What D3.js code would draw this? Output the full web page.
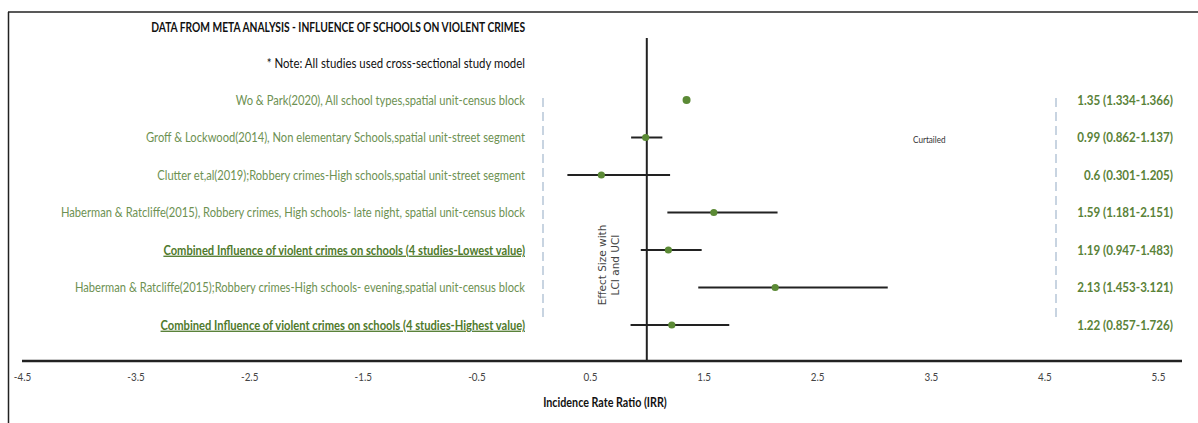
<!DOCTYPE html>
<html>
<head>
<meta charset="utf-8">
<script src="https://cdn.jsdelivr.net/npm/d3@7"></script>
<style>
  html, body { margin: 0; padding: 0; background: #fff; }
  svg { display: block; }
  .cal { font-family: Lato, "Liberation Sans", sans-serif; }
</style>
</head>
<body>
<svg id="chart" width="1198" height="423"></svg>
<script>
// ---------------- data ----------------
const chartTitle = "DATA FROM META ANALYSIS - INFLUENCE OF SCHOOLS ON VIOLENT CRIMES";
const noteText = "* Note: All studies used cross-sectional study model";
const studies = [
  "Wo & Park(2020), All school types,spatial unit-census block",
  "Groff & Lockwood(2014), Non elementary Schools,spatial unit-street segment",
  "Clutter et,al(2019);Robbery crimes-High schools,spatial unit-street segment",
  "Haberman & Ratcliffe(2015), Robbery crimes, High schools- late night, spatial unit-census block",
  "Combined Influence of violent crimes on schools (4 studies-Lowest value)",
  "Haberman & Ratcliffe(2015);Robbery crimes-High schools- evening,spatial  unit-census block",
  "Combined Influence of violent crimes on schools (4 studies-Highest value)"
];
const irr = [1.35, 0.99, 0.6, 1.59, 1.19, 2.13, 1.22];
const lci = [1.334, 0.862, 0.301, 1.181, 0.947, 1.453, 0.857];
const uci = [1.366, 1.137, 1.205, 2.151, 1.483, 3.121, 1.726];
const isCombined = [false, false, false, false, true, false, true];
const tickValues = [-4.5, -3.5, -2.5, -1.5, -0.5, 0.5, 1.5, 2.5, 3.5, 4.5, 5.5];
const referenceValue = 1;
const xAxisTitle = "Incidence Rate Ratio (IRR)";
const yAxisTitle = ["Effect Size with", "LCI and UCI"];
const curtailedText = "Curtailed";

// ---------------- layout ----------------
const svg = d3.select("#chart");
const x = d3.scaleLinear().domain([-4.5, 5.5]).range([22, 1158]);
const y = d3.scalePoint().domain(d3.range(studies.length)).range([100, 325]);
const axisY = 361;
const labelRight = 525;
const squeeze = 0.86; // condensed look of the original narrow font

const rows = studies.map((s, i) => ({
  label: s, irr: irr[i], lci: lci[i], uci: uci[i], combined: isCombined[i], i
}));

// helper: horizontally condensed text anchored at (ax, ay)
function condensedText(ax, ay, anchor, sq = squeeze) {
  return svg.append("g")
    .attr("transform", `translate(${ax},${ay}) scale(${sq},1)`)
    .append("text").attr("class", "cal")
    .attr("x", 0).attr("y", 0).attr("dy", "0.35em").attr("text-anchor", anchor);
}

// frame
svg.append("line").attr("x1", 8.5).attr("x2", 8.5).attr("y1", 12).attr("y2", 423)
  .attr("stroke", "#222").attr("stroke-width", 1.5);
svg.append("line").attr("x1", 8).attr("x2", 1198).attr("y1", 12).attr("y2", 12)
  .attr("stroke", "#222").attr("stroke-width", 1.5);

// title + note
condensedText(labelRight, 27, "end", 0.76)
  .attr("font-size", 13.5).attr("font-weight", "bold").attr("fill", "#111")
  .text(chartTitle);
condensedText(labelRight, 63, "end")
  .attr("font-size", 13.3).attr("fill", "#111")
  .text(noteText);

// dashed guides
svg.append("line").attr("x1", 543).attr("x2", 543).attr("y1", 98).attr("y2", 322)
  .attr("stroke", "#b7c6d8").attr("stroke-width", 1.5).attr("stroke-dasharray", "9,5");
svg.append("line").attr("x1", 1056).attr("x2", 1056).attr("y1", 98).attr("y2", 322)
  .attr("stroke", "#b7c6d8").attr("stroke-width", 1.5).attr("stroke-dasharray", "9,5");

// reference line at IRR = 1
svg.append("line").attr("x1", x(referenceValue)).attr("x2", x(referenceValue))
  .attr("y1", 38).attr("y2", axisY)
  .attr("stroke", "#222").attr("stroke-width", 2);

// x axis
svg.append("line").attr("x1", 22).attr("x2", 1182).attr("y1", axisY).attr("y2", axisY)
  .attr("stroke", "#222").attr("stroke-width", 2.5);
const axis = svg.append("g").attr("transform", `translate(0,${axisY})`)
  .call(d3.axisBottom(x).tickValues(tickValues).tickSize(0).tickPadding(12)
    .tickFormat(d => d3.format(".1f")(d).replace("\u2212", "-")));
axis.select(".domain").remove();
axis.selectAll(".tick text").attr("font-family", "Lato, sans-serif")
  .attr("font-size", 11.5).attr("fill", "#444")
  .attr("transform", `scale(${squeeze},1)`);

condensedText(605, 403, "middle")
  .attr("font-size", 12.5).attr("font-weight", "bold").attr("fill", "#111")
  .text(xAxisTitle);

// y axis title (rotated)
const yt = svg.append("text")
  .attr("transform", "translate(609,265) rotate(-90)")
  .attr("text-anchor", "middle").attr("font-family", "DejaVu Sans, sans-serif")
  .attr("font-size", 10.5).attr("fill", "#444");
yAxisTitle.forEach((t, k) => {
  yt.append("tspan").attr("x", 0).attr("y", k === 0 ? -3 : 10).text(t);
});

// curtailed note
condensedText(913, 140, "start")
  .attr("font-size", 9.5).attr("fill", "#333").text(curtailedText);

// study labels
svg.selectAll("g.study").data(rows).join("g")
  .attr("class", "study")
  .attr("transform", d => `translate(${labelRight},${y(d.i)}) scale(${squeeze},1)`)
  .append("text").attr("class", "cal")
  .attr("dy", "0.35em").attr("text-anchor", "end")
  .attr("font-size", 13)
  .attr("font-weight", d => d.combined ? "bold" : "normal")
  .attr("text-decoration", d => d.combined ? "underline" : "none")
  .attr("fill", d => d.combined ? "#4f7a2c" : "#6d9152")
  .text(d => d.label);

// value labels
svg.selectAll("g.value").data(rows).join("g")
  .attr("class", "value")
  .attr("transform", d => `translate(1173,${y(d.i)}) scale(${squeeze},1)`)
  .append("text").attr("class", "cal")
  .attr("dy", "0.35em").attr("text-anchor", "end")
  .attr("font-size", 13.5).attr("font-weight", "bold")
  .attr("fill", "#5a8238")
  .text(d => `${d.irr} (${d.lci}-${d.uci})`);

// error bars
svg.selectAll("line.ci").data(rows).join("line")
  .attr("class", "ci")
  .attr("x1", d => x(d.lci)).attr("x2", d => x(d.uci))
  .attr("y1", d => y(d.i)).attr("y2", d => y(d.i))
  .attr("stroke", "#222").attr("stroke-width", 2);

// points
svg.selectAll("circle.pt").data(rows).join("circle")
  .attr("class", "pt")
  .attr("cx", d => x(d.irr)).attr("cy", d => y(d.i))
  .attr("r", d => d.i === 0 ? 4 : 3.6)
  .attr("fill", "#5b8a35");
</script>
</body>
</html>
